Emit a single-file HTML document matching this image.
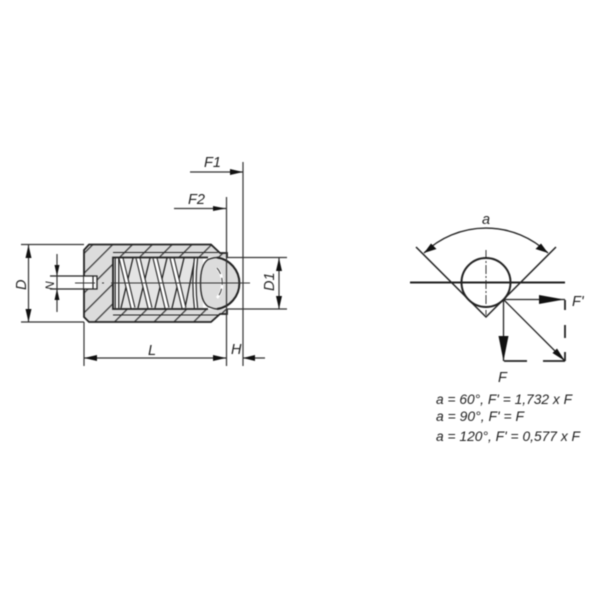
<!DOCTYPE html>
<html>
<head>
<meta charset="utf-8">
<style>
html,body{margin:0;padding:0;background:#fff;width:600px;height:600px;overflow:hidden}
svg{display:block;filter:blur(0.4px)}
text{font-family:"Liberation Sans",sans-serif;font-style:italic;font-size:14.5px;fill:#222}
.s{font-size:13.5px}
</style>
</head>
<body>
<svg width="600" height="600" viewBox="0 0 600 600" xmlns="http://www.w3.org/2000/svg">
<defs>
<pattern id="h" width="14" height="14" patternUnits="userSpaceOnUse" patternTransform="rotate(45)">
<rect width="14" height="14" fill="#dcdcdc"/>
<rect x="0" width="1.2" height="14" fill="#333"/>
</pattern>
</defs>
<rect width="600" height="600" fill="#fff"/>

<!-- body -->
<path d="M89 244.5H211L220 253H227V257.5H113V309H227V314H220L211 322H89L84 317V250Z" fill="url(#h)"/>
<rect x="113" y="258" width="90" height="51" fill="#e4e4e4"/>

<!-- coil back strands -->
<path d="M121 308L133 258M138 308L150 258M155 308L167 258M172 308L184 258M185 308L195 258" stroke="#222" stroke-width="1.3" fill="none"/>
<!-- coil front strands -->
<g fill="none">
<path d="M121 258L133 308M138 258L150 308M155 258L167 308M172 258L184 308" stroke="#222" stroke-width="5"/>
<path d="M121 258L133 308M138 258L150 308M155 258L167 308M172 258L184 308" stroke="#fff" stroke-width="2.8"/>
<path d="M117 258V308" stroke="#222" stroke-width="4.6"/>
<path d="M117 258V308" stroke="#fff" stroke-width="2.2"/>
<path d="M196 258Q193 283 196 308" stroke="#222" stroke-width="4.4"/>
<path d="M196 258Q193 283 196 308" stroke="#fff" stroke-width="2"/>
</g>

<!-- ball -->
<path d="M208 259.5C203 263 200.5 271 200.5 283C200.5 295 203 303 208 306.5C212 308 214 309 217 309A26 26 0 0 0 217 257.5C214 257.5 212 258 208 259.5Z" fill="#dcdcdc" stroke="#222" stroke-width="1.3"/>
<path d="M217 257.5A26 26 0 0 1 217 309" fill="none" stroke="#222" stroke-width="2"/>
<path d="M217 268C224 276 224 290 217 298" fill="none" stroke="#fff" stroke-width="2.5"/>
<path d="M217 268C224 276 224 290 217 298" fill="none" stroke="#333" stroke-width="1" stroke-dasharray="7 4"/>

<!-- body outline -->
<g fill="none" stroke="#222" stroke-width="1.8">
<path d="M208 257.5H113V309H208"/>
<path d="M113 252.5H218M113 315H218" stroke-width="1"/>
<path d="M227 257.5V253H220L211 244.5H89L84 250V317L89 322H211L220 314H227V309"/>
</g>
<!-- pin hole -->
<rect x="84" y="276" width="13" height="13" fill="#fff" stroke="none"/>
<path d="M50 276H97V289H50" fill="none" stroke="#222" stroke-width="1.3"/>
<path d="M93 276V289" stroke="#222" stroke-width="1.2"/>

<!-- center line -->
<path d="M75 283H95M102 283H104M111 283H250" stroke="#333" stroke-width="0.9"/>

<!-- extension & dimension lines -->
<g stroke="#333" stroke-width="1.2" fill="none">
<path d="M21 244.5H84M21 322H84"/>
<path d="M28.5 245V322"/>
<path d="M57 254V312"/>
<path d="M84 322V366"/>
<path d="M84 358H226"/>
<path d="M226.5 197V366"/>
<path d="M243 162V366"/>
<path d="M243 358H265"/>
<path d="M227 257.5H287M227 309H287"/>
<path d="M279 258V309"/>
<path d="M190 172H243"/>
<path d="M174 208.5H226"/>
</g>

<!-- arrowheads -->
<g fill="#111">
<path d="M28.5 245L25.5 258H31.5Z"/>
<path d="M28.5 322L25.5 309H31.5Z"/>
<path d="M57 276L54.5 265H59.5Z"/>
<path d="M57 289L54.5 300H59.5Z"/>
<path d="M84 358L97 355V361Z"/>
<path d="M226 358L213 355V361Z"/>
<path d="M243 358L255 355V361Z"/>
<path d="M279 258L276 271H282Z"/>
<path d="M279 309L276 296H282Z"/>
<path d="M243 172L230 169V175Z"/>
<path d="M226 208.5L213 206V211Z"/>
</g>

<!-- labels -->
<text x="0" y="0" transform="translate(26 290) rotate(-90)">D</text>
<text x="0" y="0" style="font-size:12px" transform="translate(54 290) rotate(-90)">N</text>
<text x="148" y="355">L</text>
<text x="231" y="354">H</text>
<text x="0" y="0" transform="translate(274 291) rotate(-90)">D1</text>
<text x="204" y="167">F1</text>
<text x="188" y="204">F2</text>

<!-- right diagram -->
<g fill="none" stroke="#222">
<path d="M410 282.5H565" stroke-width="2"/>
<path d="M416 247L486 317L556 247" stroke-width="1.5"/>
<circle cx="486" cy="282.5" r="24.5" stroke-width="2"/>
<path d="M424 253A89.5 89.5 0 0 1 548 253" stroke-width="1.3"/>
<path d="M486 250V315M455 282.5H520" stroke-width="0.9" stroke-dasharray="9 2 2 2"/>
<path d="M504 299.5H565" stroke-width="1.3"/>
<path d="M503.5 300V361" stroke-width="1.3"/>
<path d="M504 300L565 361" stroke-width="1.3"/>
<path d="M504 361H527M543 361H565" stroke-width="1.8"/>
<path d="M565 300V310M565 325V338M565 352V361" stroke-width="1.8"/>
</g>
<g fill="#111">
<path d="M424 253L431 243.5L436.500 249Z"/>
<path d="M548 253L541 243.5L535.500 249Z"/>
<path d="M564 299.5L539 295V304Z"/>
<path d="M503.5 361L498.500 336H508.500Z"/>
<path d="M565 361L552.500 353L557 348.500Z"/>
</g>
<text x="486" y="224" text-anchor="middle">a</text>
<text x="572" y="306">F'</text>
<text x="498" y="382">F</text>
<text class="s" x="436" y="404" textLength="136" lengthAdjust="spacingAndGlyphs">a = 60°, F' = 1,732 x F</text>
<text class="s" x="436" y="421" textLength="88" lengthAdjust="spacingAndGlyphs">a = 90°, F' = F</text>
<text class="s" x="436" y="441" textLength="144" lengthAdjust="spacingAndGlyphs">a = 120°, F' = 0,577 x F</text>
</svg>
</body>
</html>
